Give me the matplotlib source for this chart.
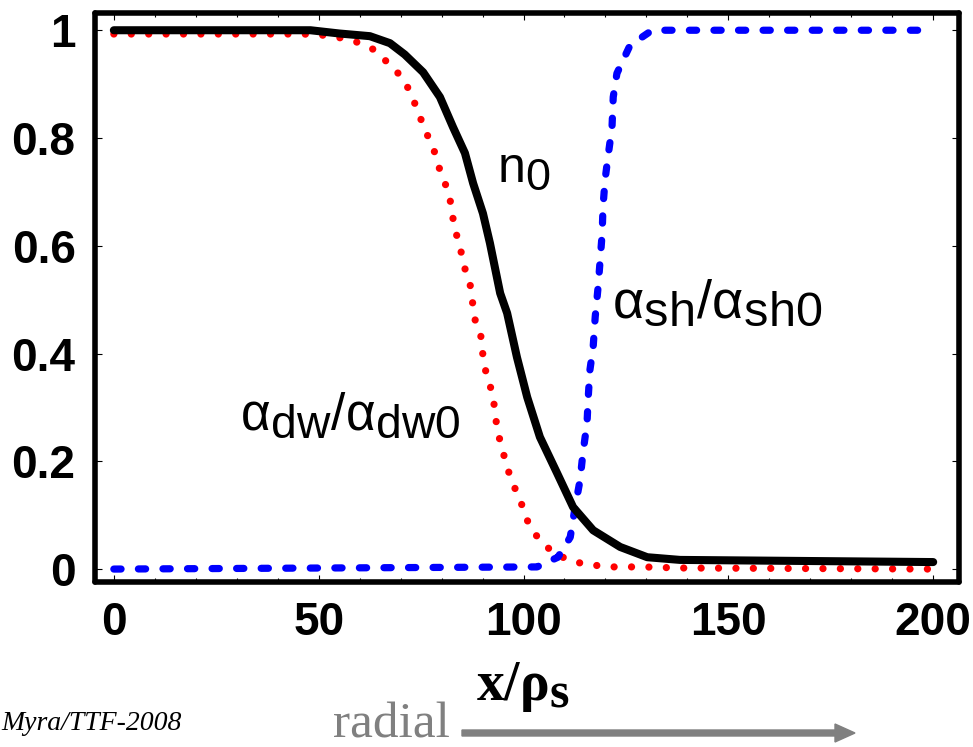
import matplotlib
matplotlib.use('Agg')
import matplotlib.pyplot as plt
import matplotlib._mathtext as mathtext_internals
from matplotlib.ticker import MultipleLocator

plt.rcParams['mathtext.fontset'] = 'custom'
plt.rcParams['mathtext.sf'] = 'Liberation Sans'
plt.rcParams['mathtext.rm'] = 'Liberation Sans'
plt.rcParams['mathtext.bf'] = 'Liberation Serif:bold'
# subscripts in the original are almost full size
mathtext_internals.SHRINK_FACTOR = 0.9

# n0 (black solid)
n0_x = [0, 48, 55, 62.5, 67.4, 71.0, 75.5, 79.6, 82.8, 85.7, 87.7, 90.1,
        91.8, 94.3, 96.0, 98.4, 100.9, 104.0, 108.2, 112.1, 117.0, 123.6,
        130.2, 138.2, 200]
n0_y = [1.0, 1.0, 0.994, 0.989, 0.976, 0.955, 0.922, 0.876, 0.820,
        0.772, 0.716, 0.660, 0.605, 0.512, 0.475, 0.393, 0.319, 0.245, 0.178,
        0.115, 0.072, 0.041, 0.022, 0.017, 0.013]

# alpha_dw / alpha_dw0 (red dotted)
dw_x = [0, 46.2, 50.8, 54.7, 59.3, 63.2, 66.7, 69.8, 72.3, 75.5, 78.4, 79.6,
        81.3, 82.5, 83.0, 84.5, 85.2, 86.9, 87.4, 88.2, 89.9, 90.1, 91.1,
        92.6, 93.0, 93.8, 95.0, 96.2, 97.9, 99.6, 101.1, 103.5, 107.0, 110.9,
        115.0, 121.1, 129.2, 138.2, 200]
dw_y = [0.993, 0.993, 0.991, 0.987, 0.978, 0.965, 0.941, 0.917, 0.887, 0.824,
        0.772, 0.740, 0.707, 0.672, 0.635, 0.601, 0.568, 0.532, 0.503, 0.462,
        0.425, 0.391, 0.356, 0.323, 0.289, 0.252, 0.217, 0.184, 0.150, 0.119,
        0.087, 0.058, 0.032, 0.017, 0.009, 0.004, 0.004, 0.002, 0.0]

# alpha_sh / alpha_sh0 (blue dashed)
sh_x = [0, 103.3, 108.4, 111.4, 112.6, 113.8, 114.5, 115.5, 115.8, 116.2,
        117.0, 117.5, 118.2, 118.7, 119.2, 119.4, 119.9, 120.6, 121.6, 121.9,
        122.8, 126.0, 131.4, 200]
sh_y = [0.0, 0.004, 0.022, 0.059, 0.115, 0.165, 0.215, 0.271, 0.319, 0.369,
        0.412, 0.468, 0.523, 0.573, 0.623, 0.672, 0.722, 0.764, 0.820, 0.876,
        0.920, 0.972, 1.0, 1.0]

xticks = [0, 50, 100, 150, 200]
yticks = [0, 0.2, 0.4, 0.6, 0.8, 1.0]
ytick_labels = ['0', '0.2', '0.4', '0.6', '0.8', '1']

fig = plt.figure(figsize=(9.73, 7.47), dpi=100)
ax = fig.add_axes([95 / 973, 1 - 582 / 747, 864 / 973, 569 / 747])

ax.plot(dw_x, dw_y, color='#ff0000', lw=5.2, linestyle=(0, (0.01, 2.4)),
        dash_capstyle='round', solid_capstyle='round')
ax.plot(sh_x, sh_y, color='#0000ff', lw=5.2, linestyle=(0, (1.0, 2.4)),
        dash_capstyle='round', solid_capstyle='round')
ax.plot(n0_x, n0_y, color='black', lw=5.8, solid_capstyle='round',
        solid_joinstyle='round')

ax.set_xlim(-4.6, 206.3)
ax.set_ylim(-0.024, 1.032)

for s in ax.spines.values():
    s.set_linewidth(4)
    s.set_capstyle('round')

ax.set_xticks(xticks)
ax.set_xticklabels([str(t) for t in xticks])
ax.set_yticks(yticks)
ax.set_yticklabels(ytick_labels)
ax.xaxis.set_minor_locator(MultipleLocator(10))
ax.tick_params(which='both', direction='in', top=True, right=True, width=0.8)
ax.tick_params(which='major', length=5, pad=14)
ax.tick_params(which='minor', length=3)
for lab in ax.get_xticklabels() + ax.get_yticklabels():
    lab.set_fontfamily('Liberation Sans')
    lab.set_fontweight('bold')
    lab.set_fontsize(33)

ax.text(93.5, 0.716, r'$\mathsf{n_0}$', fontsize=36, ha='left', va='baseline')
ax.text(121.6, 0.466, r'$\mathsf{α_{sh}/α_{sh0}}$', fontsize=39,
        ha='left', va='baseline')
ax.text(30.8, 0.258, r'$\mathsf{α_{dw}/α_{dw0}}$', fontsize=37,
        ha='left', va='baseline')

fig.text(523 / 973, 1 - 700 / 747, r'$\mathbf{x/ρ_s}$', fontsize=40,
         ha='center', va='baseline')
fig.text(333 / 973, 1 - 737 / 747, 'radial', fontsize=37, color='#808080',
         family='Liberation Serif', ha='left', va='baseline')
fig.text(1 / 973, 1 - 730 / 747, 'Myra/TTF-2008', fontsize=20, style='italic',
         family='Liberation Serif', ha='left', va='baseline')
fig.patches.append(matplotlib.patches.FancyArrow(
    462 / 973, 1 - 733 / 747, 393 / 973, 0, width=6 / 747, head_width=18 / 747,
    head_length=20 / 973, length_includes_head=True, color='#808080',
    transform=fig.transFigure, figure=fig))

fig.savefig('out.png', dpi=100)
